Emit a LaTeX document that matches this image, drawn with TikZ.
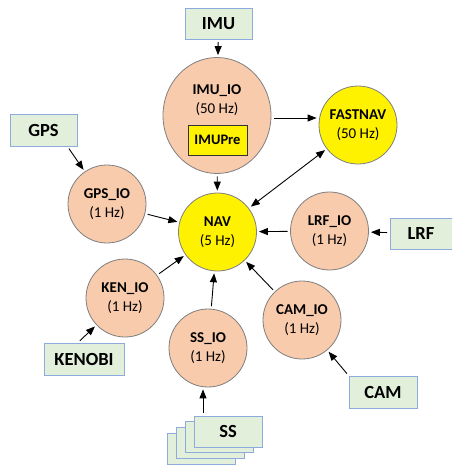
\documentclass[tikz,border=0pt]{standalone}
\usepackage{fontspec}
\setmainfont{Carlito}
\usetikzlibrary{arrows.meta,shapes.geometric}
\definecolor{salmon}{HTML}{F8CBAD}
\definecolor{boxgreen}{HTML}{E2EFDA}
\definecolor{boxedge}{HTML}{8FAADC}
\definecolor{circedge}{HTML}{7F7F7F}
\begin{document}
\begin{tikzpicture}[x=1pt,y=-1pt,
  proc/.style={circle,draw=circedge,fill=salmon,line width=0.8pt,minimum size=78pt,inner sep=0pt,align=center,font=\fontsize{15}{19}\selectfont},
  core/.style={proc,fill=yellow},
  src/.style={rectangle,draw=boxedge,fill=boxgreen,line width=1pt,inner sep=0pt,font=\bfseries\fontsize{18.5}{20}\selectfont},
  arr/.style={-{Triangle[length=9pt,width=7pt]},line width=0.9pt,shorten >=2pt,shorten <=2.5pt}]
\useasboundingbox (0,0) rectangle (451,466);
% sensor boxes
\node[src,minimum width=67pt,minimum height=31pt] (imu) at (218.5,23.5) {IMU};
\node[src,minimum width=67pt,minimum height=32pt] (gps) at (43.5,130) {GPS};
\node[src,minimum width=80pt,minimum height=32pt] (kenobi) at (84,359) {KENOBI};
\node[src,minimum width=62pt,minimum height=31pt] (lrf) at (421,233.5) {LRF};
\node[src,minimum width=68pt,minimum height=32pt] (cam) at (383,392) {CAM};
\node[src,minimum width=68pt,minimum height=31pt] (ss4) at (201,448.5) {};
\node[src,minimum width=68pt,minimum height=31pt] (ss3) at (210,443) {};
\node[src,minimum width=68pt,minimum height=31pt] (ss2) at (219,437) {};
\node[src,minimum width=68pt,minimum height=31pt] (ss1) at (228,431.5) {SS};
% processes
\node[ellipse,draw=circedge,fill=salmon,line width=0.8pt,minimum width=108pt,minimum height=116pt,inner sep=0pt] (imuio) at (217,115.5) {};
\node[align=center,font=\fontsize{15}{19}\selectfont] (imuiotext) at (217,100.5) {\textbf{IMU\_IO}\\(50 Hz)};
\node[rectangle,draw=black!80,fill=yellow,line width=1pt,minimum width=59pt,minimum height=30pt,inner sep=0pt,font=\bfseries\fontsize{14.5}{16}\selectfont] (imupre) at (217.5,140) {IMUPre};
\node[core] (fastnav) at (358,125) {\textbf{FASTNAV}\\(50 Hz)};
\node[core] (nav) at (217.5,232) {\textbf{NAV}\\(5 Hz)};
\node[proc] (gpsio) at (107,204) {\textbf{GPS\_IO}\\(1 Hz)};
\node[proc] (kenio) at (125,298) {\textbf{KEN\_IO}\\(1 Hz)};
\node[proc] (lrfio) at (329.5,231) {\textbf{LRF\_IO}\\(1 Hz)};
\node[proc] (camio) at (302,320) {\textbf{CAM\_IO}\\(1 Hz)};
\node[proc] (ssio) at (208,348) {\textbf{SS\_IO}\\(1 Hz)};
% connectors
\draw[arr] (imu) -- (imuio);
\draw[arr] ([yshift=-2.5pt]imuio.east) -- ([yshift=-2.5pt]imuio.east -| fastnav.west);
\draw[arr] (imuio) -- (nav);
\draw[arr,{Triangle[length=9pt,width=7pt]}-{Triangle[length=9pt,width=7pt]}] (nav) -- (fastnav);
\draw[arr] (gpsio) -- (nav);
\draw[arr] (kenio) -- (nav);
\draw[arr] (ssio) -- (nav);
\draw[arr] (camio) -- (nav);
\draw[arr] (lrfio) -- (nav);
\draw[arr] ([xshift=24pt]gps.south) -- (gpsio);
\draw[arr] ([xshift=-6pt]kenobi.north) -- (kenio);
\draw[arr] (cam.north west) -- (camio);
\draw[arr] (lrf) -- (lrfio);
\draw[arr] ([xshift=-25pt]ss1.north) -- ([xshift=-25pt]ss1.north |- ssio.south);
\end{tikzpicture}
\end{document}
